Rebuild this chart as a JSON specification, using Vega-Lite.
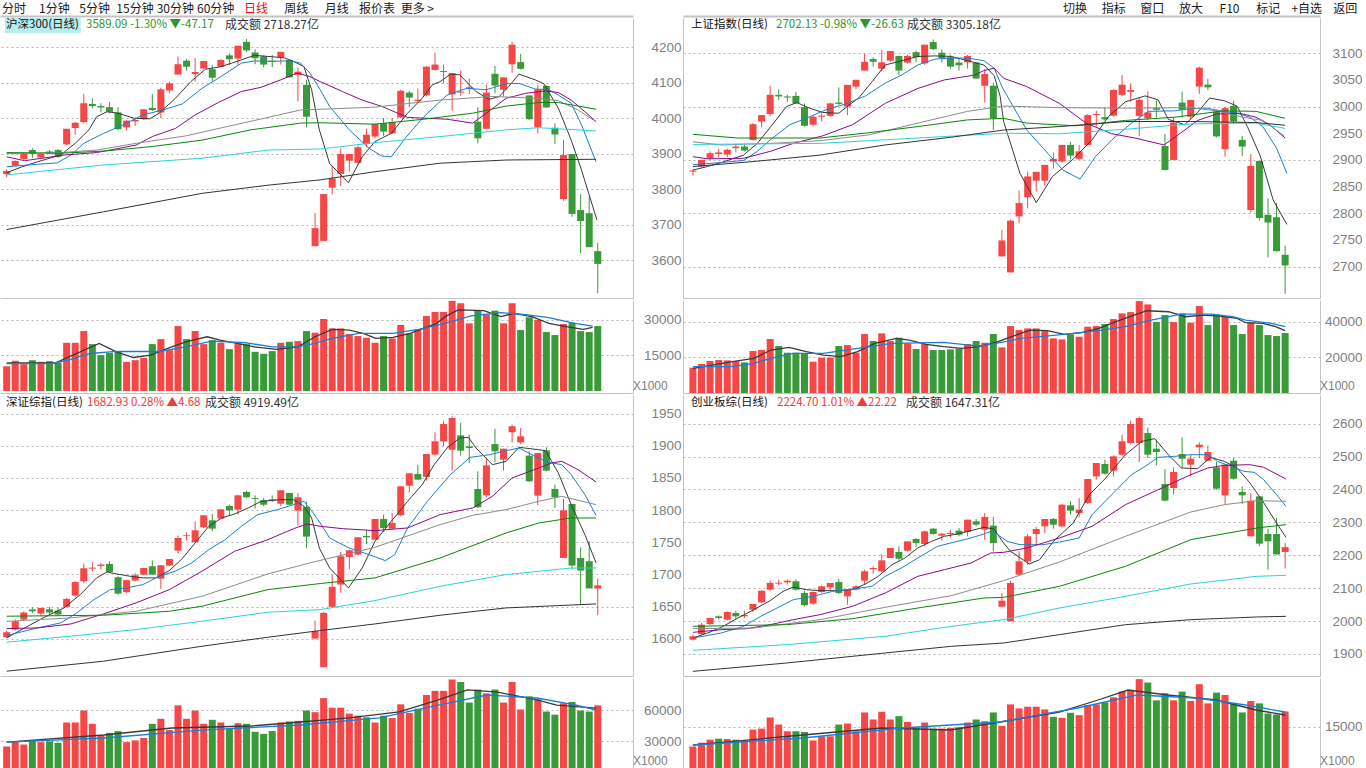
{
"$schema": "https://vega.github.io/schema/vega-lite/v6.json",
"padding": 0,
"background": "#ffffff",
"bounds": "flush",
"columns": 2,
"spacing": {"row": 2, "column": 50},
"config": {
 "font": "Noto Sans CJK SC",
 "view": {"stroke": null},
 "axisX": {"labels": false, "ticks": false, "grid": false, "domain": true, "domainColor": "#c4c4c4", "title": null},
 "axisY": {"grid": true, "gridDash": [2, 3], "gridColor": "#b4b4b4", "ticks": false, "labelPadding": 48, "labelAlign": "right", "domainColor": "#c4c4c4", "labelFont": "Liberation Sans", "labelFontSize": 13.5, "labelColor": "#808080", "labelOverlap": false, "title": null}
},
"datasets": {
 "tl": [
{"i":1,"o":3842,"h":3856,"l":3833,"c":3851,"v":10470},{"i":2,"o":3866,"h":3881,"l":3864,"c":3879,"v":12740},{"i":3,"o":3885,"h":3903,"l":3882,"c":3901,"v":11320},{"i":4,"o":3910,"h":3915,"l":3887,"c":3899,"v":13020},{"i":5,"o":3889,"h":3902,"l":3888,"c":3899,"v":12310},{"i":6,"o":3906,"h":3910,"l":3898,"c":3901,"v":12600},{"i":7,"o":3910,"h":3913,"l":3888,"c":3891,"v":12030},{"i":8,"o":3926,"h":3970,"l":3924,"c":3970,"v":20380},{"i":9,"o":3972,"h":3989,"l":3953,"c":3987,"v":20380},{"i":10,"o":3989,"h":4068,"l":3986,"c":4042,"v":25330},
{"i":11,"o":4040,"h":4056,"l":4027,"c":4034,"v":19810},{"i":12,"o":4034,"h":4042,"l":4016,"c":4030,"v":15140},{"i":13,"o":4031,"h":4046,"l":4014,"c":4018,"v":16130},{"i":14,"o":4016,"h":4031,"l":3965,"c":3969,"v":16840},{"i":15,"o":3974,"h":3995,"l":3965,"c":3993,"v":12310},{"i":16,"o":3991,"h":3999,"l":3978,"c":3995,"v":13020},{"i":17,"o":3997,"h":4025,"l":3995,"c":4025,"v":14010},{"i":18,"o":4029,"h":4068,"l":4020,"c":4023,"v":19810},{"i":19,"o":4016,"h":4086,"l":4000,"c":4081,"v":21930},{"i":20,"o":4078,"h":4103,"l":4070,"c":4098,"v":17260},
{"i":21,"o":4123,"h":4174,"l":4123,"c":4152,"v":27450},{"i":22,"o":4162,"h":4167,"l":4134,"c":4145,"v":21930},{"i":23,"o":4124,"h":4169,"l":4103,"c":4130,"v":25330},{"i":24,"o":4140,"h":4161,"l":4138,"c":4161,"v":19810},{"i":25,"o":4138,"h":4150,"l":4103,"c":4114,"v":21510},{"i":26,"o":4145,"h":4166,"l":4144,"c":4164,"v":20380},{"i":27,"o":4177,"h":4183,"l":4150,"c":4166,"v":17690},{"i":28,"o":4168,"h":4204,"l":4150,"c":4204,"v":20100},{"i":29,"o":4215,"h":4223,"l":4187,"c":4191,"v":19810},{"i":30,"o":4185,"h":4194,"l":4152,"c":4169,"v":16560},
{"i":31,"o":4174,"h":4177,"l":4144,"c":4151,"v":15710},{"i":32,"o":4162,"h":4178,"l":4144,"c":4159,"v":16840},{"i":33,"o":4172,"h":4187,"l":4151,"c":4187,"v":20380},{"i":34,"o":4164,"h":4164,"l":4115,"c":4115,"v":20800},{"i":35,"o":4122,"h":4141,"l":4047,"c":4131,"v":21080},{"i":36,"o":4094,"h":4108,"l":3974,"c":4004,"v":25330},{"i":37,"o":3639,"h":3733,"l":3639,"c":3690,"v":24620},{"i":38,"o":3654,"h":3786,"l":3654,"c":3786,"v":30420},{"i":39,"o":3804,"h":3865,"l":3785,"c":3830,"v":26460},{"i":40,"o":3843,"h":3915,"l":3809,"c":3899,"v":26460},
{"i":41,"o":3880,"h":3899,"l":3850,"c":3899,"v":24060},{"i":42,"o":3874,"h":3922,"l":3872,"c":3918,"v":23210},{"i":43,"o":3927,"h":3970,"l":3918,"c":3953,"v":22500},{"i":44,"o":3948,"h":3984,"l":3943,"c":3984,"v":20380},{"i":45,"o":3986,"h":4000,"l":3950,"c":3962,"v":23210},{"i":46,"o":3957,"h":4000,"l":3955,"c":3989,"v":22220},{"i":47,"o":4002,"h":4080,"l":4000,"c":4077,"v":27880},{"i":48,"o":4072,"h":4077,"l":4031,"c":4058,"v":24340},{"i":49,"o":4048,"h":4084,"l":4044,"c":4052,"v":26040},{"i":50,"o":4064,"h":4147,"l":4061,"c":4145,"v":31700},
{"i":51,"o":4136,"h":4185,"l":4134,"c":4151,"v":33400},{"i":52,"o":4130,"h":4151,"l":4098,"c":4133,"v":33400},{"i":53,"o":4067,"h":4127,"l":4021,"c":4127,"v":38070},{"i":54,"o":4072,"h":4133,"l":4063,"c":4075,"v":37080},{"i":55,"o":4083,"h":4112,"l":4068,"c":4087,"v":28590},{"i":56,"o":3990,"h":4031,"l":3929,"c":3943,"v":33960},{"i":57,"o":3970,"h":4094,"l":3970,"c":4072,"v":32400},{"i":58,"o":4125,"h":4147,"l":4070,"c":4092,"v":33960},{"i":59,"o":4080,"h":4115,"l":4061,"c":4115,"v":28590},{"i":60,"o":4152,"h":4215,"l":4128,"c":4207,"v":37080},
{"i":61,"o":4158,"h":4181,"l":4137,"c":4139,"v":25760},{"i":62,"o":4064,"h":4064,"l":3995,"c":3997,"v":31130},{"i":63,"o":3974,"h":4094,"l":3957,"c":4081,"v":30000},{"i":64,"o":4091,"h":4091,"l":4030,"c":4030,"v":24900},{"i":65,"o":3973,"h":3985,"l":3927,"c":3954,"v":23630},{"i":66,"o":3772,"h":3938,"l":3767,"c":3896,"v":28300},{"i":67,"o":3899,"h":3899,"l":3722,"c":3730,"v":28870},{"i":68,"o":3741,"h":3786,"l":3620,"c":3710,"v":25330},{"i":69,"o":3732,"h":3779,"l":3636,"c":3636.26,"v":24900},{"i":70,"o":3625,"h":3649,"l":3506,"c":3589.09,"v":27450}
 ],
 "tlma": [
{"m":"MA5","i":1,"v":3846},{"m":"MA5","i":2.7,"v":3862},{"m":"MA5","i":4.6,"v":3877},{"m":"MA5","i":7.3,"v":3896},{"m":"MA5","i":9,"v":3929},{"m":"MA5","i":10.6,"v":3967},{"m":"MA5","i":11.5,"v":4004},{"m":"MA5","i":12.7,"v":4018},{"m":"MA5","i":14,"v":4014},{"m":"MA5","i":15.8,"v":4000},{"m":"MA5","i":17.7,"v":3998},{"m":"MA5","i":18.8,"v":4014},{"m":"MA5","i":20.7,"v":4056},{"m":"MA5","i":22.5,"v":4103},{"m":"MA5","i":24.2,"v":4138},{"m":"MA5","i":26,"v":4145},{"m":"MA5","i":28,"v":4161},{"m":"MA5","i":29.9,"v":4177},{"m":"MA5","i":31.5,"v":4174},{"m":"MA5","i":33.4,"v":4170},{"m":"MA5","i":34.5,"v":4160},{"m":"MA5","i":35.7,"v":4145},{"m":"MA5","i":36.6,"v":4080},{"m":"MA5","i":37.5,"v":3967},{"m":"MA5","i":38.7,"v":3872},{"m":"MA5","i":40.9,"v":3818},{"m":"MA5","i":42.5,"v":3891},{"m":"MA5","i":44,"v":3934},{"m":"MA5","i":45.9,"v":3957},{"m":"MA5","i":47.8,"v":4014},{"m":"MA5","i":49.5,"v":4056},{"m":"MA5","i":50.7,"v":4094},{"m":"MA5","i":51.6,"v":4103},{"m":"MA5","i":52.8,"v":4124},{"m":"MA5","i":53.9,"v":4122},{"m":"MA5","i":55,"v":4094},{"m":"MA5","i":55.8,"v":4075},{"m":"MA5","i":57.3,"v":4053},{"m":"MA5","i":58.5,"v":4061},{"m":"MA5","i":59.6,"v":4089},{"m":"MA5","i":60.8,"v":4124},{"m":"MA5","i":62.7,"v":4108},{"m":"MA5","i":63.7,"v":4097},{"m":"MA5","i":65.4,"v":4028},{"m":"MA5","i":66.9,"v":3938},{"m":"MA5","i":68.1,"v":3854},{"m":"MA5","i":69.9,"v":3713},
{"m":"MA10","i":1,"v":3863},{"m":"MA10","i":4.6,"v":3870},{"m":"MA10","i":6.9,"v":3874},{"m":"MA10","i":8.5,"v":3896},{"m":"MA10","i":10,"v":3929},{"m":"MA10","i":12.3,"v":3957},{"m":"MA10","i":14.6,"v":3981},{"m":"MA10","i":16.9,"v":4009},{"m":"MA10","i":19.2,"v":4023},{"m":"MA10","i":21.5,"v":4040},{"m":"MA10","i":23.8,"v":4084},{"m":"MA10","i":26,"v":4117},{"m":"MA10","i":28.4,"v":4155},{"m":"MA10","i":29.9,"v":4161},{"m":"MA10","i":32.2,"v":4160},{"m":"MA10","i":34.1,"v":4162},{"m":"MA10","i":35.3,"v":4155},{"m":"MA10","i":36.4,"v":4127},{"m":"MA10","i":37.6,"v":4080},{"m":"MA10","i":38.7,"v":4033},{"m":"MA10","i":41,"v":3967},{"m":"MA10","i":43.3,"v":3915},{"m":"MA10","i":44.8,"v":3893},{"m":"MA10","i":45.9,"v":3891},{"m":"MA10","i":47.5,"v":3943},{"m":"MA10","i":49.7,"v":4004},{"m":"MA10","i":52.4,"v":4065},{"m":"MA10","i":54.7,"v":4084},{"m":"MA10","i":57,"v":4080},{"m":"MA10","i":59.3,"v":4097},{"m":"MA10","i":60.8,"v":4098},{"m":"MA10","i":62.7,"v":4082},{"m":"MA10","i":64.3,"v":4080},{"m":"MA10","i":65.4,"v":4065},{"m":"MA10","i":66.9,"v":4042},{"m":"MA10","i":68.1,"v":3981},{"m":"MA10","i":69.8,"v":3877},
{"m":"MA20","i":1,"v":3891},{"m":"MA20","i":3.1,"v":3880},{"m":"MA20","i":7.7,"v":3896},{"m":"MA20","i":11.5,"v":3903},{"m":"MA20","i":16.1,"v":3924},{"m":"MA20","i":18,"v":3948},{"m":"MA20","i":20.7,"v":3971},{"m":"MA20","i":23,"v":4009},{"m":"MA20","i":25.7,"v":4044},{"m":"MA20","i":28.4,"v":4075},{"m":"MA20","i":30.7,"v":4087},{"m":"MA20","i":33,"v":4108},{"m":"MA20","i":34.9,"v":4127},{"m":"MA20","i":36.4,"v":4117},{"m":"MA20","i":37.6,"v":4103},{"m":"MA20","i":40.2,"v":4075},{"m":"MA20","i":42.5,"v":4051},{"m":"MA20","i":44.8,"v":4033},{"m":"MA20","i":47.8,"v":4002},{"m":"MA20","i":52.4,"v":3997},{"m":"MA20","i":55.4,"v":3986},{"m":"MA20","i":57,"v":4014},{"m":"MA20","i":59.3,"v":4056},{"m":"MA20","i":61.6,"v":4070},{"m":"MA20","i":63.9,"v":4077},{"m":"MA20","i":65.4,"v":4072},{"m":"MA20","i":66.9,"v":4051},{"m":"MA20","i":68.5,"v":4018},{"m":"MA20","i":69.8,"v":3990},
{"m":"MA30","i":1,"v":3900},{"m":"MA30","i":7.3,"v":3903},{"m":"MA30","i":11.5,"v":3910},{"m":"MA30","i":16.1,"v":3929},{"m":"MA30","i":21.9,"v":3950},{"m":"MA30","i":27.6,"v":3981},{"m":"MA30","i":31.5,"v":4002},{"m":"MA30","i":35.3,"v":4023},{"m":"MA30","i":37.6,"v":4025},{"m":"MA30","i":44,"v":4031},{"m":"MA30","i":51.6,"v":4051},{"m":"MA30","i":57.7,"v":4061},{"m":"MA30","i":63.1,"v":4056},{"m":"MA30","i":65.4,"v":4049},{"m":"MA30","i":67.7,"v":4023},{"m":"MA30","i":69.8,"v":3990},
{"m":"MA60","i":1,"v":3903},{"m":"MA60","i":7.3,"v":3901},{"m":"MA60","i":12.3,"v":3907},{"m":"MA60","i":18,"v":3920},{"m":"MA60","i":23.8,"v":3938},{"m":"MA60","i":29.5,"v":3967},{"m":"MA60","i":35.3,"v":3986},{"m":"MA60","i":37.6,"v":3987},{"m":"MA60","i":44,"v":3983},{"m":"MA60","i":49.7,"v":3997},{"m":"MA60","i":55.4,"v":4014},{"m":"MA60","i":59.3,"v":4034},{"m":"MA60","i":63.1,"v":4044},{"m":"MA60","i":65.4,"v":4044},{"m":"MA60","i":69.8,"v":4025},
{"m":"MA120","i":1,"v":3840},{"m":"MA120","i":12.3,"v":3868},{"m":"MA120","i":23.8,"v":3887},{"m":"MA120","i":31.5,"v":3910},{"m":"MA120","i":37.6,"v":3913},{"m":"MA120","i":44,"v":3931},{"m":"MA120","i":51.6,"v":3948},{"m":"MA120","i":59.3,"v":3967},{"m":"MA120","i":63.1,"v":3973},{"m":"MA120","i":69.8,"v":3964},
{"m":"MA250","i":1,"v":3686},{"m":"MA250","i":12.3,"v":3736},{"m":"MA250","i":23.8,"v":3788},{"m":"MA250","i":31.5,"v":3811},{"m":"MA250","i":37.6,"v":3826},{"m":"MA250","i":44,"v":3849},{"m":"MA250","i":51.6,"v":3873},{"m":"MA250","i":59.3,"v":3882},{"m":"MA250","i":69.8,"v":3884}
 ],
 "tlvma": [
{"m":"V5","i":1,"v":11890},{"m":"V5","i":6.7,"v":11890},{"m":"V5","i":11.8,"v":20095},{"m":"V5","i":13.8,"v":16557},{"m":"V5","i":15.8,"v":14152},{"m":"V5","i":17.8,"v":15142},{"m":"V5","i":19.8,"v":17970},{"m":"V5","i":21.9,"v":20800},{"m":"V5","i":24.4,"v":22920},{"m":"V5","i":25.9,"v":21510},{"m":"V5","i":27.9,"v":20095},{"m":"V5","i":29.9,"v":18680},{"m":"V5","i":32.5,"v":17550},{"m":"V5","i":35,"v":18680},{"m":"V5","i":37,"v":22920},{"m":"V5","i":39,"v":26040},{"m":"V5","i":41,"v":25760},{"m":"V5","i":42.6,"v":24340},{"m":"V5","i":44.1,"v":22220},{"m":"V5","i":46.1,"v":22640},{"m":"V5","i":48.1,"v":24340},{"m":"V5","i":51.2,"v":28590},{"m":"V5","i":52.2,"v":31415},{"m":"V5","i":53.7,"v":34245},{"m":"V5","i":56.7,"v":33960},{"m":"V5","i":58.7,"v":31415},{"m":"V5","i":60.2,"v":32830},{"m":"V5","i":62.3,"v":31415},{"m":"V5","i":64.3,"v":28590},{"m":"V5","i":66.3,"v":27170},{"m":"V5","i":68.3,"v":26040},{"m":"V5","i":69.4,"v":26890},
{"m":"V10","i":1,"v":11605},{"m":"V10","i":6.2,"v":11605},{"m":"V10","i":8.2,"v":13020},{"m":"V10","i":10.7,"v":15850},{"m":"V10","i":13.8,"v":16700},{"m":"V10","i":18.8,"v":16700},{"m":"V10","i":21.9,"v":18680},{"m":"V10","i":24.9,"v":21080},{"m":"V10","i":28.9,"v":20380},{"m":"V10","i":32,"v":18680},{"m":"V10","i":35,"v":18680},{"m":"V10","i":37,"v":20095},{"m":"V10","i":39,"v":22220},{"m":"V10","i":42.1,"v":24340},{"m":"V10","i":46.1,"v":24340},{"m":"V10","i":49.1,"v":26040},{"m":"V10","i":52.2,"v":28590},{"m":"V10","i":55.2,"v":31700},{"m":"V10","i":58.7,"v":33110},{"m":"V10","i":61.3,"v":32400},{"m":"V10","i":64.3,"v":30990},{"m":"V10","i":67.3,"v":28590},{"m":"V10","i":69.4,"v":27450}
 ],
 "tr": [
{"i":1,"o":2878,"h":2882,"l":2871,"c":2880,"v":14208},{"i":2,"o":2887.5,"h":2900,"l":2886,"c":2900,"v":16264},{"i":3,"o":2903,"h":2916,"l":2899,"c":2912.5,"v":17946},{"i":4,"o":2911,"h":2921,"l":2905,"c":2914,"v":18507},{"i":5,"o":2910,"h":2921,"l":2905,"c":2919,"v":18320},{"i":6,"o":2922,"h":2928,"l":2914,"c":2925,"v":17946},{"i":7,"o":2925,"h":2928,"l":2916,"c":2917.5,"v":17198},{"i":8,"o":2937.5,"h":2969,"l":2936,"c":2967,"v":23553},{"i":9,"o":2972,"h":2984,"l":2961,"c":2984,"v":24113},{"i":10,"o":2986,"h":3039,"l":2982,"c":3022,"v":30281},
{"i":11,"o":3022,"h":3032.5,"l":3012.5,"c":3019,"v":26356},{"i":12,"o":3019,"h":3022,"l":3009,"c":3017,"v":22618},{"i":13,"o":3020,"h":3027.5,"l":3005,"c":3006,"v":22618},{"i":14,"o":2999,"h":3006,"l":2962.5,"c":2964,"v":22244},{"i":15,"o":2966,"h":2984,"l":2962.5,"c":2981,"v":17572},{"i":16,"o":2981,"h":2987.5,"l":2972,"c":2983,"v":19815},{"i":17,"o":2982.5,"h":3007.5,"l":2981,"c":3006,"v":19815},{"i":18,"o":3007.5,"h":3036,"l":3003,"c":3005,"v":26356},{"i":19,"o":3000,"h":3040.6,"l":2984,"c":3040.6,"v":26917},{"i":20,"o":3037.5,"h":3051,"l":3032.5,"c":3050,"v":22618},
{"i":21,"o":3067.5,"h":3099,"l":3067.5,"c":3084,"v":33085},{"i":22,"o":3089,"h":3092.5,"l":3075,"c":3084,"v":29160},{"i":23,"o":3071,"h":3106,"l":3066,"c":3083,"v":33459},{"i":24,"o":3086,"h":3104,"l":3084,"c":3104,"v":29160},{"i":25,"o":3095,"h":3095,"l":3059,"c":3067.5,"v":31029},{"i":26,"o":3082.5,"h":3097,"l":3081,"c":3095,"v":27852},{"i":27,"o":3102,"h":3105,"l":3083,"c":3092.5,"v":24674},{"i":28,"o":3081,"h":3116,"l":3078,"c":3116,"v":27478},{"i":29,"o":3121,"h":3126,"l":3106,"c":3107.5,"v":24113},{"i":30,"o":3101,"h":3107.5,"l":3082.5,"c":3091,"v":24113},
{"i":31,"o":3092.5,"h":3097,"l":3071,"c":3075,"v":24487},{"i":32,"o":3082.5,"h":3091,"l":3067.5,"c":3077.5,"v":24861},{"i":33,"o":3083,"h":3097,"l":3071,"c":3095,"v":27478},{"i":34,"o":3082.5,"h":3084,"l":3052.5,"c":3052.5,"v":29160},{"i":35,"o":3039,"h":3070,"l":3007.5,"c":3061,"v":28226},{"i":36,"o":3039,"h":3045,"l":2956,"c":2978,"v":33085},{"i":37,"o":2719,"h":2769,"l":2719,"c":2749,"v":25608},{"i":38,"o":2689,"h":2787.5,"l":2689,"c":2786,"v":37570},{"i":39,"o":2794,"h":2842.5,"l":2781,"c":2819,"v":35328},{"i":40,"o":2830,"h":2878,"l":2809,"c":2869,"v":36262},
{"i":41,"o":2861,"h":2877.5,"l":2841,"c":2877.5,"v":36262},{"i":42,"o":2861,"h":2890.6,"l":2851,"c":2890.6,"v":34767},{"i":43,"o":2897,"h":2914,"l":2884,"c":2902,"v":30655},{"i":44,"o":2897,"h":2928,"l":2895,"c":2928,"v":30094},{"i":45,"o":2928,"h":2934,"l":2901,"c":2908,"v":32898},{"i":46,"o":2902,"h":2928,"l":2900,"c":2916,"v":31589},{"i":47,"o":2928,"h":2986,"l":2927,"c":2984,"v":37197},{"i":48,"o":2984,"h":2992,"l":2962.5,"c":2986,"v":37570},{"i":49,"o":2980,"h":2998,"l":2974,"c":2976,"v":38692},{"i":50,"o":2983,"h":3032.5,"l":2981,"c":3031,"v":41495},
{"i":51,"o":3022,"h":3059,"l":3020,"c":3041,"v":44673},{"i":52,"o":3027.5,"h":3044,"l":3009,"c":3031,"v":45420},{"i":53,"o":2982.5,"h":3016,"l":2945,"c":3012.5,"v":51588},{"i":54,"o":2978,"h":3029,"l":2975,"c":2989,"v":49719},{"i":55,"o":2997,"h":3011,"l":2980,"c":2994,"v":39813},{"i":56,"o":2926,"h":2949,"l":2880,"c":2881,"v":43738},{"i":57,"o":2900,"h":2980,"l":2900,"c":2970,"v":39813},{"i":58,"o":3007.5,"h":3028,"l":2980,"c":2994,"v":44673},{"i":59,"o":2981,"h":3012.5,"l":2976,"c":3012.5,"v":39439},{"i":60,"o":3037.5,"h":3075,"l":3024,"c":3073,"v":48784},
{"i":61,"o":3041,"h":3052,"l":3031,"c":3036,"v":38131},{"i":62,"o":2991,"h":2994,"l":2942,"c":2944,"v":44112},{"i":63,"o":2920,"h":3000,"l":2906,"c":2997,"v":42803},{"i":64,"o":3001,"h":3011,"l":2969,"c":2972,"v":38131},{"i":65,"o":2937.5,"h":2945,"l":2907.5,"c":2925,"v":33085},{"i":66,"o":2806,"h":2911,"l":2801,"c":2889,"v":39439},{"i":67,"o":2898,"h":2898,"l":2786,"c":2791,"v":38131},{"i":68,"o":2797,"h":2828,"l":2717,"c":2782.5,"v":32524},{"i":69,"o":2792.5,"h":2819,"l":2728,"c":2728.76,"v":31963},{"i":70,"o":2722,"h":2739,"l":2649,"c":2702.13,"v":33646}
 ],
 "trma": [
{"m":"MA5","i":1,"v":2881},{"m":"MA5","i":2.7,"v":2887.5},{"m":"MA5","i":4.3,"v":2895},{"m":"MA5","i":6.9,"v":2909},{"m":"MA5","i":8.5,"v":2931},{"m":"MA5","i":10.4,"v":2969},{"m":"MA5","i":11.9,"v":3000},{"m":"MA5","i":13.1,"v":3007.5},{"m":"MA5","i":14.6,"v":2997},{"m":"MA5","i":16.1,"v":2989},{"m":"MA5","i":18,"v":2987.5},{"m":"MA5","i":19.2,"v":3003},{"m":"MA5","i":20.3,"v":3016},{"m":"MA5","i":21.9,"v":3047},{"m":"MA5","i":23.4,"v":3078},{"m":"MA5","i":24.9,"v":3084},{"m":"MA5","i":27.2,"v":3094},{"m":"MA5","i":29.2,"v":3095},{"m":"MA5","i":31.1,"v":3094},{"m":"MA5","i":33,"v":3086},{"m":"MA5","i":34.9,"v":3078},{"m":"MA5","i":36.1,"v":3058},{"m":"MA5","i":36.8,"v":3019},{"m":"MA5","i":37.2,"v":2972},{"m":"MA5","i":39.1,"v":2875},{"m":"MA5","i":41,"v":2820},{"m":"MA5","i":42.9,"v":2869},{"m":"MA5","i":45.2,"v":2900},{"m":"MA5","i":47.5,"v":2937.5},{"m":"MA5","i":49.4,"v":2981},{"m":"MA5","i":51.4,"v":3009},{"m":"MA5","i":53.7,"v":3020},{"m":"MA5","i":55.2,"v":3012.5},{"m":"MA5","i":56.4,"v":2976},{"m":"MA5","i":58.3,"v":2966},{"m":"MA5","i":59.8,"v":2989},{"m":"MA5","i":61.2,"v":3016},{"m":"MA5","i":62.9,"v":3011},{"m":"MA5","i":64.4,"v":3001},{"m":"MA5","i":65.6,"v":2962.5},{"m":"MA5","i":67.1,"v":2907.5},{"m":"MA5","i":68.6,"v":2825},{"m":"MA5","i":70.2,"v":2779},
{"m":"MA10","i":1,"v":2891},{"m":"MA10","i":4.3,"v":2895},{"m":"MA10","i":6.9,"v":2899},{"m":"MA10","i":8.5,"v":2916},{"m":"MA10","i":10,"v":2937.5},{"m":"MA10","i":12.3,"v":2966},{"m":"MA10","i":14.2,"v":2978},{"m":"MA10","i":16.5,"v":2994},{"m":"MA10","i":18.8,"v":3005},{"m":"MA10","i":21.1,"v":3020},{"m":"MA10","i":23.4,"v":3044},{"m":"MA10","i":25.3,"v":3059},{"m":"MA10","i":27.2,"v":3078},{"m":"MA10","i":29.2,"v":3089},{"m":"MA10","i":31.1,"v":3091},{"m":"MA10","i":33,"v":3091},{"m":"MA10","i":34.9,"v":3086},{"m":"MA10","i":36.1,"v":3072},{"m":"MA10","i":37,"v":3037.5},{"m":"MA10","i":38,"v":3009},{"m":"MA10","i":39.9,"v":2956},{"m":"MA10","i":41.8,"v":2922},{"m":"MA10","i":44.1,"v":2881},{"m":"MA10","i":46.1,"v":2864},{"m":"MA10","i":47.9,"v":2906},{"m":"MA10","i":49.8,"v":2937.5},{"m":"MA10","i":52.1,"v":2969},{"m":"MA10","i":54.1,"v":2991},{"m":"MA10","i":57.1,"v":2992},{"m":"MA10","i":59,"v":2996},{"m":"MA10","i":60.9,"v":2997},{"m":"MA10","i":62.8,"v":2991},{"m":"MA10","i":64.4,"v":2987.5},{"m":"MA10","i":65.9,"v":2980},{"m":"MA10","i":67.4,"v":2962.5},{"m":"MA10","i":69,"v":2922},{"m":"MA10","i":70.2,"v":2875},
{"m":"MA20","i":1,"v":2906},{"m":"MA20","i":2.7,"v":2902},{"m":"MA20","i":6.9,"v":2903},{"m":"MA20","i":10,"v":2916},{"m":"MA20","i":12.7,"v":2931},{"m":"MA20","i":16.1,"v":2945},{"m":"MA20","i":19.6,"v":2966},{"m":"MA20","i":23.4,"v":3006},{"m":"MA20","i":27.2,"v":3034},{"m":"MA20","i":30.3,"v":3050},{"m":"MA20","i":33.8,"v":3059},{"m":"MA20","i":34.9,"v":3067.5},{"m":"MA20","i":36.1,"v":3072},{"m":"MA20","i":37.2,"v":3053},{"m":"MA20","i":39.9,"v":3037.5},{"m":"MA20","i":43.7,"v":3006},{"m":"MA20","i":46.8,"v":2969},{"m":"MA20","i":49.8,"v":2949},{"m":"MA20","i":52.5,"v":2941},{"m":"MA20","i":55.9,"v":2928},{"m":"MA20","i":57.8,"v":2950},{"m":"MA20","i":59.8,"v":2974},{"m":"MA20","i":62,"v":2986},{"m":"MA20","i":64.7,"v":2987.5},{"m":"MA20","i":66.6,"v":2980},{"m":"MA20","i":68.2,"v":2966},{"m":"MA20","i":70,"v":2941},
{"m":"MA30","i":1,"v":2934},{"m":"MA30","i":4.3,"v":2928},{"m":"MA30","i":10,"v":2931},{"m":"MA30","i":15.8,"v":2936},{"m":"MA30","i":21.5,"v":2947},{"m":"MA30","i":27.2,"v":2969},{"m":"MA30","i":33,"v":2991},{"m":"MA30","i":37.2,"v":3001},{"m":"MA30","i":43.7,"v":2998},{"m":"MA30","i":51.4,"v":2997},{"m":"MA30","i":59,"v":2998},{"m":"MA30","i":62,"v":2992},{"m":"MA30","i":65.1,"v":2980},{"m":"MA30","i":67.4,"v":2974},{"m":"MA30","i":69.9,"v":2945},
{"m":"MA60","i":1,"v":2948},{"m":"MA60","i":6.2,"v":2941},{"m":"MA60","i":15.8,"v":2941},{"m":"MA60","i":21.5,"v":2951},{"m":"MA60","i":27.2,"v":2962.5},{"m":"MA60","i":33,"v":2975},{"m":"MA60","i":37.2,"v":2978},{"m":"MA60","i":39.9,"v":2969},{"m":"MA60","i":45.6,"v":2964},{"m":"MA60","i":51.4,"v":2974},{"m":"MA60","i":57.1,"v":2980},{"m":"MA60","i":62.8,"v":2992},{"m":"MA60","i":66.6,"v":2991},{"m":"MA60","i":70,"v":2978},
{"m":"MA120","i":1,"v":2929},{"m":"MA120","i":15.8,"v":2931},{"m":"MA120","i":27.2,"v":2941},{"m":"MA120","i":37.2,"v":2950},{"m":"MA120","i":43.7,"v":2949},{"m":"MA120","i":51.4,"v":2957.5},{"m":"MA120","i":59,"v":2967.5},{"m":"MA120","i":66.6,"v":2969},{"m":"MA120","i":70,"v":2959},
{"m":"MA250","i":1,"v":2887.5},{"m":"MA250","i":8.1,"v":2897},{"m":"MA250","i":15.8,"v":2909},{"m":"MA250","i":23.4,"v":2928},{"m":"MA250","i":31.1,"v":2942.5},{"m":"MA250","i":37.2,"v":2956},{"m":"MA250","i":43.7,"v":2962.5},{"m":"MA250","i":51.4,"v":2972},{"m":"MA250","i":59,"v":2972},{"m":"MA250","i":66.6,"v":2970},{"m":"MA250","i":70,"v":2965}
 ],
 "trvma": [
{"m":"V5","i":1,"v":13834},{"m":"V5","i":5.6,"v":17572},{"m":"V5","i":8.1,"v":19441},{"m":"V5","i":10.1,"v":24113},{"m":"V5","i":12.2,"v":25609},{"m":"V5","i":14.2,"v":23179},{"m":"V5","i":16.2,"v":21310},{"m":"V5","i":18.2,"v":20375},{"m":"V5","i":20.2,"v":23179},{"m":"V5","i":22.2,"v":27852},{"m":"V5","i":24.7,"v":30655},{"m":"V5","i":26.2,"v":29720},{"m":"V5","i":28.2,"v":27291},{"m":"V5","i":30.2,"v":25983},{"m":"V5","i":32.3,"v":25048},{"m":"V5","i":34.3,"v":25983},{"m":"V5","i":36.3,"v":28412},{"m":"V5","i":38.3,"v":31963},{"m":"V5","i":40.3,"v":35328},{"m":"V5","i":42.3,"v":34954},{"m":"V5","i":44.3,"v":32898},{"m":"V5","i":46.3,"v":33832},{"m":"V5","i":48.3,"v":36262},{"m":"V5","i":50.3,"v":40000},{"m":"V5","i":52.4,"v":43738},{"m":"V5","i":53.9,"v":46168},{"m":"V5","i":56.4,"v":45607},{"m":"V5","i":58.4,"v":42804},{"m":"V5","i":60.4,"v":43738},{"m":"V5","i":62.4,"v":43177},{"m":"V5","i":64.4,"v":41869},{"m":"V5","i":65.4,"v":39439},{"m":"V5","i":67.4,"v":39065},{"m":"V5","i":68.9,"v":37196},{"m":"V5","i":70,"v":34954},
{"m":"V10","i":1,"v":14769},{"m":"V10","i":5.6,"v":14769},{"m":"V10","i":8.1,"v":16637},{"m":"V10","i":10.1,"v":19441},{"m":"V10","i":12.7,"v":22244},{"m":"V10","i":16.2,"v":22244},{"m":"V10","i":20.2,"v":25048},{"m":"V10","i":24.2,"v":27852},{"m":"V10","i":30.2,"v":28412},{"m":"V10","i":34.3,"v":26356},{"m":"V10","i":36.3,"v":27852},{"m":"V10","i":39.3,"v":30655},{"m":"V10","i":43.3,"v":32524},{"m":"V10","i":45.3,"v":33459},{"m":"V10","i":48.3,"v":34954},{"m":"V10","i":51.4,"v":37197},{"m":"V10","i":54.4,"v":40935},{"m":"V10","i":57.9,"v":44299},{"m":"V10","i":61.4,"v":44299},{"m":"V10","i":63.9,"v":42804},{"m":"V10","i":65.4,"v":40935},{"m":"V10","i":68.4,"v":39065},{"m":"V10","i":70,"v":37197}
 ],
 "bl": [
{"i":1,"o":1602.3,"h":1612.7,"l":1601.3,"c":1610,"v":24600},{"i":2,"o":1614.3,"h":1629.8,"l":1612.7,"c":1627.2,"v":29900},{"i":3,"o":1629.8,"h":1642.7,"l":1628.2,"c":1640.7,"v":26600},{"i":4,"o":1645.3,"h":1649,"l":1640,"c":1642.7,"v":30600},{"i":5,"o":1639.1,"h":1647.9,"l":1635,"c":1647.9,"v":28900},{"i":6,"o":1645.8,"h":1649.5,"l":1637.6,"c":1640.7,"v":29600},{"i":7,"o":1643.8,"h":1648,"l":1636.5,"c":1637.6,"v":28300},{"i":8,"o":1649.5,"h":1663.5,"l":1649.5,"c":1661.9,"v":47900},{"i":9,"o":1667.1,"h":1689.4,"l":1664.5,"c":1688.3,"v":47900},{"i":10,"o":1689.4,"h":1716.8,"l":1686.8,"c":1709.6,"v":59500},
{"i":11,"o":1709,"h":1718.9,"l":1704.9,"c":1710.6,"v":46600},{"i":12,"o":1713.2,"h":1718,"l":1707.5,"c":1715.3,"v":35600},{"i":13,"o":1716.3,"h":1720.5,"l":1702.3,"c":1703.9,"v":37900},{"i":14,"o":1695.6,"h":1697.2,"l":1668.7,"c":1670.2,"v":39600},{"i":15,"o":1672.3,"h":1692,"l":1671.2,"c":1691,"v":28900},{"i":16,"o":1690.4,"h":1702.3,"l":1689.4,"c":1698.7,"v":30600},{"i":17,"o":1699.7,"h":1710.1,"l":1698.7,"c":1710.1,"v":32900},{"i":18,"o":1712.7,"h":1722,"l":1699.7,"c":1699.7,"v":46600},{"i":19,"o":1693.5,"h":1714.2,"l":1677.5,"c":1714.2,"v":51500},{"i":20,"o":1713.7,"h":1724,"l":1712.7,"c":1724,"v":40600},
{"i":21,"o":1737,"h":1760.4,"l":1732.4,"c":1756.7,"v":64500},{"i":22,"o":1759.8,"h":1765.5,"l":1752.6,"c":1760.9,"v":51500},{"i":23,"o":1750.5,"h":1782.6,"l":1749,"c":1768.7,"v":59500},{"i":24,"o":1773.3,"h":1792,"l":1772.3,"c":1792,"v":46600},{"i":25,"o":1784.2,"h":1794,"l":1767,"c":1771.2,"v":50500},{"i":26,"o":1786.8,"h":1801.3,"l":1785.8,"c":1801.3,"v":47900},{"i":27,"o":1806.5,"h":1808.5,"l":1792,"c":1799.7,"v":41600},{"i":28,"o":1800.8,"h":1824,"l":1793,"c":1823,"v":47200},{"i":29,"o":1828.2,"h":1830.3,"l":1819,"c":1820,"v":46600},{"i":30,"o":1818.9,"h":1823,"l":1802.3,"c":1817.4,"v":38900},
{"i":31,"o":1815.3,"h":1818.9,"l":1806,"c":1808.5,"v":36900},{"i":32,"o":1816.8,"h":1823,"l":1812.7,"c":1814.8,"v":39600},{"i":33,"o":1810,"h":1830.8,"l":1806,"c":1830.8,"v":47900},{"i":34,"o":1826.7,"h":1826.7,"l":1807.5,"c":1808.5,"v":48900},{"i":35,"o":1799.2,"h":1826.7,"l":1776.4,"c":1820,"v":49500},{"i":36,"o":1805,"h":1813.7,"l":1741,"c":1758.8,"v":59500},{"i":37,"o":1600.3,"h":1628.2,"l":1600.3,"c":1611.7,"v":57900},{"i":38,"o":1555.7,"h":1641.7,"l":1555.7,"c":1640.2,"v":71500},{"i":39,"o":1649.5,"h":1699.7,"l":1649,"c":1680.6,"v":62200},{"i":40,"o":1684.2,"h":1735,"l":1671.2,"c":1728.2,"v":62200},
{"i":41,"o":1727.2,"h":1738.6,"l":1707.5,"c":1737.6,"v":56500},{"i":42,"o":1730.8,"h":1757.8,"l":1729.8,"c":1757.8,"v":54500},{"i":43,"o":1759.8,"h":1769.7,"l":1747.4,"c":1757.8,"v":52900},{"i":44,"o":1754.1,"h":1786.3,"l":1754.1,"c":1786.3,"v":47900},{"i":45,"o":1786.3,"h":1793,"l":1766,"c":1772.3,"v":54500},{"i":46,"o":1771.2,"h":1795.6,"l":1771.2,"c":1780,"v":52200},{"i":47,"o":1792,"h":1837,"l":1790.4,"c":1837,"v":65500},{"i":48,"o":1838,"h":1857.3,"l":1827.7,"c":1857.3,"v":57200},{"i":49,"o":1856.2,"h":1870.7,"l":1847.4,"c":1847.4,"v":61200},{"i":50,"o":1851.6,"h":1887.3,"l":1845.9,"c":1887.3,"v":74500},
{"i":51,"o":1886.3,"h":1921,"l":1884.7,"c":1907,"v":78500},{"i":52,"o":1907,"h":1939.1,"l":1899.2,"c":1934,"v":78500},{"i":53,"o":1894,"h":1945.9,"l":1861.4,"c":1943.3,"v":89500},{"i":54,"o":1916.3,"h":1935.5,"l":1884.7,"c":1892.5,"v":87100},{"i":55,"o":1899.2,"h":1917.4,"l":1873.3,"c":1896.6,"v":67200},{"i":56,"o":1832.9,"h":1860.4,"l":1803.4,"c":1804.4,"v":79800},{"i":57,"o":1823,"h":1882,"l":1820,"c":1869.7,"v":76100},{"i":58,"o":1902.8,"h":1926.7,"l":1874.9,"c":1891.5,"v":79800},{"i":59,"o":1878.5,"h":1895.6,"l":1861.4,"c":1895.6,"v":67200},{"i":60,"o":1921,"h":1932.9,"l":1905.4,"c":1930.3,"v":87100},
{"i":61,"o":1905.4,"h":1927.7,"l":1902.8,"c":1914.8,"v":60500},{"i":62,"o":1884.7,"h":1891.5,"l":1843.8,"c":1844.8,"v":73200},{"i":63,"o":1822.5,"h":1888.9,"l":1807.5,"c":1888.9,"v":70500},{"i":64,"o":1893,"h":1897.7,"l":1860.4,"c":1861.4,"v":58500},{"i":65,"o":1832.9,"h":1839.7,"l":1803.4,"c":1820,"v":55500},{"i":66,"o":1725.6,"h":1817.4,"l":1725.6,"c":1799.7,"v":66500},{"i":67,"o":1809.6,"h":1809.6,"l":1707.5,"c":1713.7,"v":67800},{"i":68,"o":1725.6,"h":1742.2,"l":1653.1,"c":1706,"v":59500},{"i":69,"o":1720.5,"h":1751.6,"l":1679,"c":1678.25,"v":58500},{"i":70,"o":1678,"h":1693.5,"l":1636.5,"c":1682.93,"v":64500}
 ],
 "blma": [
{"m":"MA5","i":1,"v":1601.3},{"m":"MA5","i":3.1,"v":1616.8},{"m":"MA5","i":5.4,"v":1633.4},{"m":"MA5","i":7.7,"v":1648},{"m":"MA5","i":9.6,"v":1668.7},{"m":"MA5","i":11.5,"v":1694.6},{"m":"MA5","i":12.7,"v":1703.9},{"m":"MA5","i":13.8,"v":1700.8},{"m":"MA5","i":15.4,"v":1697.2},{"m":"MA5","i":16.9,"v":1694.6},{"m":"MA5","i":18.4,"v":1694.6},{"m":"MA5","i":20,"v":1706},{"m":"MA5","i":21.5,"v":1724.6},{"m":"MA5","i":23,"v":1749},{"m":"MA5","i":24.6,"v":1774.9},{"m":"MA5","i":26.1,"v":1787.8},{"m":"MA5","i":27.6,"v":1794},{"m":"MA5","i":29.2,"v":1803.4},{"m":"MA5","i":30.7,"v":1813.7},{"m":"MA5","i":33,"v":1816.3},{"m":"MA5","i":34.5,"v":1816.3},{"m":"MA5","i":35.7,"v":1806},{"m":"MA5","i":36.6,"v":1787.8},{"m":"MA5","i":37.5,"v":1741},{"m":"MA5","i":38.7,"v":1710},{"m":"MA5","i":40.9,"v":1679},{"m":"MA5","i":42.5,"v":1710},{"m":"MA5","i":44,"v":1751.6},{"m":"MA5","i":45.9,"v":1782.6},{"m":"MA5","i":47.8,"v":1813.7},{"m":"MA5","i":49.5,"v":1839.6},{"m":"MA5","i":50.9,"v":1870.7},{"m":"MA5","i":52.4,"v":1896.6},{"m":"MA5","i":53.9,"v":1912.2},{"m":"MA5","i":54.9,"v":1913.2},{"m":"MA5","i":55.8,"v":1896.6},{"m":"MA5","i":57.7,"v":1870.7},{"m":"MA5","i":59.3,"v":1875.9},{"m":"MA5","i":60.8,"v":1897.7},{"m":"MA5","i":63.1,"v":1894},{"m":"MA5","i":63.9,"v":1892.5},{"m":"MA5","i":65.4,"v":1857.8},{"m":"MA5","i":66.9,"v":1808.5},{"m":"MA5","i":68.5,"v":1761.9},{"m":"MA5","i":69.8,"v":1717.9},
{"m":"MA10","i":1,"v":1605},{"m":"MA10","i":4.6,"v":1616.8},{"m":"MA10","i":7.3,"v":1624.6},{"m":"MA10","i":9.2,"v":1640.2},{"m":"MA10","i":11.2,"v":1660.9},{"m":"MA10","i":13.1,"v":1676.4},{"m":"MA10","i":15,"v":1679},{"m":"MA10","i":16.9,"v":1684.2},{"m":"MA10","i":18.8,"v":1697.2},{"m":"MA10","i":20.7,"v":1705},{"m":"MA10","i":22.6,"v":1717.9},{"m":"MA10","i":24.6,"v":1738.6},{"m":"MA10","i":26.5,"v":1754.1},{"m":"MA10","i":28.4,"v":1774.9},{"m":"MA10","i":30.3,"v":1793},{"m":"MA10","i":32.6,"v":1800.8},{"m":"MA10","i":34.5,"v":1808.5},{"m":"MA10","i":35.7,"v":1813.7},{"m":"MA10","i":36.6,"v":1799},{"m":"MA10","i":37.6,"v":1780},{"m":"MA10","i":38.7,"v":1756.7},{"m":"MA10","i":41,"v":1741},{"m":"MA10","i":43.3,"v":1730.8},{"m":"MA10","i":45.2,"v":1721.5},{"m":"MA10","i":46.3,"v":1730.8},{"m":"MA10","i":47.8,"v":1772.3},{"m":"MA10","i":50.1,"v":1813.7},{"m":"MA10","i":52.8,"v":1855.2},{"m":"MA10","i":55.1,"v":1882.1},{"m":"MA10","i":57.4,"v":1886.3},{"m":"MA10","i":59.3,"v":1892.5},{"m":"MA10","i":60.8,"v":1896.6},{"m":"MA10","i":62.7,"v":1883.7},{"m":"MA10","i":64.3,"v":1874.4},{"m":"MA10","i":65.8,"v":1870.7},{"m":"MA10","i":66.9,"v":1855.2},{"m":"MA10","i":68.5,"v":1824.1},{"m":"MA10","i":69.8,"v":1792},
{"m":"MA20","i":1,"v":1615.8},{"m":"MA20","i":4.6,"v":1616.8},{"m":"MA20","i":8.5,"v":1623},{"m":"MA20","i":12.3,"v":1638.6},{"m":"MA20","i":16.1,"v":1655.7},{"m":"MA20","i":20,"v":1676.4},{"m":"MA20","i":23.8,"v":1705},{"m":"MA20","i":27.6,"v":1736},{"m":"MA20","i":31.5,"v":1754.1},{"m":"MA20","i":34.5,"v":1771.2},{"m":"MA20","i":36.1,"v":1778.5},{"m":"MA20","i":37.6,"v":1774.9},{"m":"MA20","i":40.2,"v":1771.2},{"m":"MA20","i":44,"v":1768.1},{"m":"MA20","i":47.8,"v":1772.3},{"m":"MA20","i":51.6,"v":1793},{"m":"MA20","i":55.4,"v":1803.4},{"m":"MA20","i":57.7,"v":1821.5},{"m":"MA20","i":60,"v":1850},{"m":"MA20","i":63.1,"v":1865.5},{"m":"MA20","i":64.6,"v":1873.3},{"m":"MA20","i":65.8,"v":1876},{"m":"MA20","i":67.7,"v":1863},{"m":"MA20","i":69.8,"v":1843.8},
{"m":"MA30","i":1,"v":1627},{"m":"MA30","i":8.5,"v":1632.4},{"m":"MA30","i":16.1,"v":1642.7},{"m":"MA30","i":23.8,"v":1666},{"m":"MA30","i":31.5,"v":1700.8},{"m":"MA30","i":36.4,"v":1717.9},{"m":"MA30","i":44,"v":1742.2},{"m":"MA30","i":51.6,"v":1777.5},{"m":"MA30","i":55.4,"v":1792},{"m":"MA30","i":59.3,"v":1800.8},{"m":"MA30","i":63.1,"v":1813.7},{"m":"MA30","i":65.8,"v":1821.5},{"m":"MA30","i":69.8,"v":1808.5},
{"m":"MA60","i":1,"v":1635},{"m":"MA60","i":12.3,"v":1636.5},{"m":"MA60","i":20,"v":1642.7},{"m":"MA60","i":23.8,"v":1650.5},{"m":"MA60","i":31.5,"v":1676.4},{"m":"MA60","i":37.6,"v":1685.8},{"m":"MA60","i":44,"v":1694.6},{"m":"MA60","i":51.6,"v":1725.6},{"m":"MA60","i":59.3,"v":1764.5},{"m":"MA60","i":63.1,"v":1780},{"m":"MA60","i":66.9,"v":1787.8},{"m":"MA60","i":69.8,"v":1787.8},
{"m":"MA120","i":1,"v":1594.6},{"m":"MA120","i":8.5,"v":1604},{"m":"MA120","i":16.1,"v":1614.2},{"m":"MA120","i":23.8,"v":1627.2},{"m":"MA120","i":31.5,"v":1641.2},{"m":"MA120","i":37.6,"v":1645.3},{"m":"MA120","i":44,"v":1659.3},{"m":"MA120","i":51.6,"v":1681.6},{"m":"MA120","i":59.3,"v":1699.7},{"m":"MA120","i":66.9,"v":1710},{"m":"MA120","i":69.8,"v":1710},
{"m":"MA250","i":1,"v":1549.5},{"m":"MA250","i":12.3,"v":1565},{"m":"MA250","i":23.8,"v":1588.3},{"m":"MA250","i":31.5,"v":1602.3},{"m":"MA250","i":37.6,"v":1612.7},{"m":"MA250","i":44,"v":1623},{"m":"MA250","i":51.6,"v":1636.5},{"m":"MA250","i":59.3,"v":1647.9},{"m":"MA250","i":69.8,"v":1654.1}
 ],
 "blvma": [
{"m":"V5","i":1,"v":29000},{"m":"V5","i":12.3,"v":35800},{"m":"V5","i":20.3,"v":42600},{"m":"V5","i":29.5,"v":44500},{"m":"V5","i":35.3,"v":48400},{"m":"V5","i":41,"v":52300},{"m":"V5","i":46.8,"v":58100},{"m":"V5","i":51.4,"v":69700},{"m":"V5","i":54.8,"v":79400},{"m":"V5","i":58.3,"v":77400},{"m":"V5","i":62.9,"v":69700},{"m":"V5","i":65.2,"v":64800},{"m":"V5","i":69.8,"v":61900},
{"m":"V10","i":1,"v":29000},{"m":"V10","i":12.3,"v":32900},{"m":"V10","i":23.8,"v":40600},{"m":"V10","i":35.3,"v":45500},{"m":"V10","i":44.5,"v":52300},{"m":"V10","i":51.4,"v":64800},{"m":"V10","i":57.1,"v":74500},{"m":"V10","i":62.9,"v":71600},{"m":"V10","i":67.5,"v":64800},{"m":"V10","i":69.8,"v":60000}
 ],
 "br": [
{"i":1,"o":1943.5,"h":1958.7,"l":1940.4,"c":1953.6,"v":8500},{"i":2,"o":1960.7,"h":1994.1,"l":1958.7,"c":1989,"v":9760},{"i":3,"o":1991,"h":2009.3,"l":1987,"c":2009.3,"v":10770},{"i":4,"o":2014.4,"h":2017.4,"l":2004.3,"c":2009.3,"v":11100},{"i":5,"o":2004.3,"h":2029.6,"l":2001.2,"c":2027.5,"v":10990},{"i":6,"o":2024.5,"h":2031.6,"l":2007.3,"c":2014.4,"v":10770},{"i":7,"o":2014.4,"h":2031.6,"l":2009.3,"c":2018.4,"v":10320},{"i":8,"o":2034.6,"h":2051.9,"l":2027.5,"c":2051.9,"v":14130},{"i":9,"o":2057,"h":2092.4,"l":2055,"c":2092.4,"v":14470},{"i":10,"o":2095.4,"h":2122.8,"l":2092.4,"c":2115.7,"v":18170},
{"i":11,"o":2113.7,"h":2125.8,"l":2108.6,"c":2116.7,"v":15810},{"i":12,"o":2117.7,"h":2125.8,"l":2110.6,"c":2122.8,"v":13570},{"i":13,"o":2120.8,"h":2126.8,"l":2092.4,"c":2095.4,"v":13570},{"i":14,"o":2085.3,"h":2092.4,"l":2044.8,"c":2048.2,"v":13350},{"i":15,"o":2052.9,"h":2090.4,"l":2049.8,"c":2088.3,"v":10540},{"i":16,"o":2088.3,"h":2108.6,"l":2085.3,"c":2105.6,"v":11890},{"i":17,"o":2102.5,"h":2115.7,"l":2095.4,"c":2115.7,"v":11890},{"i":18,"o":2118.7,"h":2128.9,"l":2082.3,"c":2085.3,"v":15810},{"i":19,"o":2075.2,"h":2095.4,"l":2049.8,"c":2095.4,"v":16150},{"i":20,"o":2095.4,"h":2108.6,"l":2092.4,"c":2105.6,"v":13570},
{"i":21,"o":2122.8,"h":2156.2,"l":2110.6,"c":2151.2,"v":19850},{"i":22,"o":2157.3,"h":2166.4,"l":2144.1,"c":2161.3,"v":17500},{"i":23,"o":2151.2,"h":2203.8,"l":2148.1,"c":2184.6,"v":20080},{"i":24,"o":2191.7,"h":2222.1,"l":2191.7,"c":2222.1,"v":17500},{"i":25,"o":2209.9,"h":2227.2,"l":2183.6,"c":2189.7,"v":18620},{"i":26,"o":2213.9,"h":2242.3,"l":2211.9,"c":2242.3,"v":16710},{"i":27,"o":2249.4,"h":2252.5,"l":2224.1,"c":2237.3,"v":14800},{"i":28,"o":2234.2,"h":2274.8,"l":2227.2,"c":2272.7,"v":16490},{"i":29,"o":2280.8,"h":2282.9,"l":2262.6,"c":2264.6,"v":14470},{"i":30,"o":2259.6,"h":2267.7,"l":2244.4,"c":2265.6,"v":14470},
{"i":31,"o":2264.6,"h":2277.8,"l":2254.5,"c":2267.7,"v":14690},{"i":32,"o":2274.8,"h":2282.9,"l":2257.6,"c":2262.6,"v":14920},{"i":33,"o":2270.7,"h":2308.2,"l":2257.6,"c":2308.2,"v":16490},{"i":34,"o":2303.1,"h":2310.2,"l":2287.9,"c":2293,"v":17500},{"i":35,"o":2277.8,"h":2328.5,"l":2247.4,"c":2316.3,"v":16940},{"i":36,"o":2290,"h":2316.3,"l":2212,"c":2237.3,"v":19850},{"i":37,"o":2043.8,"h":2085.3,"l":2043.8,"c":2062,"v":15360},{"i":38,"o":1999.2,"h":2122.8,"l":1999.2,"c":2115.7,"v":22540},{"i":39,"o":2141,"h":2211.9,"l":2139,"c":2181.6,"v":21200},{"i":40,"o":2181.6,"h":2264.6,"l":2171.4,"c":2257.6,"v":21760},
{"i":41,"o":2264.6,"h":2285.9,"l":2232.2,"c":2279.8,"v":21760},{"i":42,"o":2287.9,"h":2310.2,"l":2267.7,"c":2310.2,"v":20860},{"i":43,"o":2310.2,"h":2313.3,"l":2280.9,"c":2293,"v":18390},{"i":44,"o":2287.9,"h":2355.8,"l":2284.9,"c":2353.8,"v":18060},{"i":45,"o":2351.8,"h":2363.9,"l":2323.4,"c":2335.6,"v":19740},{"i":46,"o":2328.5,"h":2374,"l":2315.3,"c":2338.6,"v":18950},{"i":47,"o":2358.9,"h":2431.8,"l":2355.8,"c":2431.8,"v":22320},{"i":48,"o":2439.9,"h":2480.4,"l":2429.8,"c":2480.4,"v":22540},{"i":49,"o":2477.4,"h":2490.6,"l":2445,"c":2448,"v":23220},{"i":50,"o":2457.1,"h":2503.7,"l":2439.9,"c":2500.7,"v":24900},
{"i":51,"o":2505.8,"h":2566.6,"l":2500.7,"c":2546.3,"v":26800},{"i":52,"o":2541.2,"h":2609.1,"l":2538.2,"c":2599,"v":27250},{"i":53,"o":2541.2,"h":2622.3,"l":2483.5,"c":2617.2,"v":30950},{"i":54,"o":2571.6,"h":2588.9,"l":2495.6,"c":2505.8,"v":29830},{"i":55,"o":2523.9,"h":2551.4,"l":2473.4,"c":2513.9,"v":23890},{"i":56,"o":2416.6,"h":2462.2,"l":2363.9,"c":2366,"v":26240},{"i":57,"o":2404.5,"h":2467.3,"l":2384.2,"c":2453.1,"v":23890},{"i":58,"o":2507.8,"h":2558.5,"l":2465.3,"c":2493.6,"v":26800},{"i":59,"o":2475.4,"h":2505.8,"l":2439.9,"c":2493.6,"v":23660},{"i":60,"o":2528.1,"h":2543.3,"l":2495.6,"c":2536.2,"v":29270},
{"i":61,"o":2487.5,"h":2534.1,"l":2485.5,"c":2513.9,"v":22880},{"i":62,"o":2467.3,"h":2483.5,"l":2399.4,"c":2402.4,"v":26470},{"i":63,"o":2382.2,"h":2475.4,"l":2353.8,"c":2475.4,"v":25680},{"i":64,"o":2487.5,"h":2495.6,"l":2429.8,"c":2432.8,"v":22880},{"i":65,"o":2392.3,"h":2409.5,"l":2355.8,"c":2382.2,"v":19850},{"i":66,"o":2257.6,"h":2389.3,"l":2257.6,"c":2366,"v":23660},{"i":67,"o":2379.1,"h":2379.1,"l":2227.2,"c":2235.3,"v":22880},{"i":68,"o":2264.6,"h":2280.8,"l":2156.2,"c":2242.3,"v":19510},{"i":69,"o":2264.6,"h":2313.3,"l":2201.8,"c":2202.48,"v":19180},{"i":70,"o":2209.9,"h":2237.3,"l":2159.3,"c":2224.7,"v":20190}
 ],
 "brma": [
{"m":"MA5","i":1,"v":1948.5},{"m":"MA5","i":2.7,"v":1963.7},{"m":"MA5","i":4.3,"v":1980.9},{"m":"MA5","i":6.6,"v":2014.4},{"m":"MA5","i":8.1,"v":2034.6},{"m":"MA5","i":10,"v":2062},{"m":"MA5","i":11.5,"v":2090.4},{"m":"MA5","i":12.7,"v":2103.5},{"m":"MA5","i":14.2,"v":2095.4},{"m":"MA5","i":15.8,"v":2092.4},{"m":"MA5","i":17.7,"v":2092.4},{"m":"MA5","i":19.6,"v":2095.4},{"m":"MA5","i":21.1,"v":2112.7},{"m":"MA5","i":22.6,"v":2136},{"m":"MA5","i":24.2,"v":2171.4},{"m":"MA5","i":25.7,"v":2191.7},{"m":"MA5","i":27.2,"v":2222.1},{"m":"MA5","i":28.8,"v":2242.3},{"m":"MA5","i":30.3,"v":2257.6},{"m":"MA5","i":31.8,"v":2264.6},{"m":"MA5","i":33.4,"v":2274.8},{"m":"MA5","i":34.9,"v":2284.9},{"m":"MA5","i":36.06,"v":2280},{"m":"MA5","i":37.2,"v":2237.3},{"m":"MA5","i":38,"v":2212},{"m":"MA5","i":40.2,"v":2173.5},{"m":"MA5","i":41.4,"v":2186.6},{"m":"MA5","i":43,"v":2242.3},{"m":"MA5","i":45.3,"v":2298},{"m":"MA5","i":47.2,"v":2384.2},{"m":"MA5","i":49.1,"v":2434.9},{"m":"MA5","i":51.4,"v":2505.8},{"m":"MA5","i":53.3,"v":2546.3},{"m":"MA5","i":54.8,"v":2554.4},{"m":"MA5","i":56.4,"v":2505.8},{"m":"MA5","i":57.9,"v":2465.3},{"m":"MA5","i":59.8,"v":2463.2},{"m":"MA5","i":61.3,"v":2497.7},{"m":"MA5","i":62.9,"v":2485.5},{"m":"MA5","i":64.4,"v":2465.3},{"m":"MA5","i":65.9,"v":2419.7},{"m":"MA5","i":67.4,"v":2363.9},{"m":"MA5","i":69,"v":2298},{"m":"MA5","i":70.1,"v":2254.5},
{"m":"MA10","i":1,"v":1948.5},{"m":"MA10","i":4.3,"v":1963.7},{"m":"MA10","i":6.9,"v":1984},{"m":"MA10","i":8.9,"v":2014.4},{"m":"MA10","i":10.8,"v":2039.7},{"m":"MA10","i":12.7,"v":2065},{"m":"MA10","i":15,"v":2075.2},{"m":"MA10","i":17.3,"v":2090.4},{"m":"MA10","i":19.6,"v":2097.5},{"m":"MA10","i":21.9,"v":2105.6},{"m":"MA10","i":23.4,"v":2136},{"m":"MA10","i":25.3,"v":2161.3},{"m":"MA10","i":27.2,"v":2191.7},{"m":"MA10","i":29.5,"v":2227.2},{"m":"MA10","i":31.8,"v":2242.3},{"m":"MA10","i":33.4,"v":2252.5},{"m":"MA10","i":34.9,"v":2264.6},{"m":"MA10","i":35.7,"v":2272.7},{"m":"MA10","i":36.4,"v":2265},{"m":"MA10","i":37.6,"v":2242.3},{"m":"MA10","i":39.1,"v":2232.2},{"m":"MA10","i":41.8,"v":2232.2},{"m":"MA10","i":43.7,"v":2240.3},{"m":"MA10","i":46,"v":2252.5},{"m":"MA10","i":47.5,"v":2323.4},{"m":"MA10","i":49.8,"v":2384.2},{"m":"MA10","i":52.1,"v":2445},{"m":"MA10","i":53.7,"v":2470.3},{"m":"MA10","i":55.2,"v":2497.7},{"m":"MA10","i":57.1,"v":2500.7},{"m":"MA10","i":59,"v":2505.8},{"m":"MA10","i":61,"v":2505.8},{"m":"MA10","i":62.1,"v":2485.5},{"m":"MA10","i":63.7,"v":2470.3},{"m":"MA10","i":65.2,"v":2455.1},{"m":"MA10","i":66.4,"v":2452.1},{"m":"MA10","i":67.5,"v":2429.8},{"m":"MA10","i":69,"v":2384.2},{"m":"MA10","i":70.1,"v":2348.7},
{"m":"MA20","i":1,"v":1965.7},{"m":"MA20","i":4.3,"v":1973.8},{"m":"MA20","i":7.3,"v":1976.9},{"m":"MA20","i":10,"v":1989},{"m":"MA20","i":12.7,"v":2004.3},{"m":"MA20","i":15.8,"v":2019.5},{"m":"MA20","i":19.6,"v":2044.8},{"m":"MA20","i":23.4,"v":2085.3},{"m":"MA20","i":27.2,"v":2136},{"m":"MA20","i":30.3,"v":2156.2},{"m":"MA20","i":33.4,"v":2176.5},{"m":"MA20","i":35.7,"v":2206.9},{"m":"MA20","i":37.2,"v":2208.9},{"m":"MA20","i":39.9,"v":2222.1},{"m":"MA20","i":43.7,"v":2252.5},{"m":"MA20","i":47.5,"v":2287.9},{"m":"MA20","i":51.4,"v":2353.8},{"m":"MA20","i":55.2,"v":2399.4},{"m":"MA20","i":59,"v":2445},{"m":"MA20","i":61,"v":2465.3},{"m":"MA20","i":62.9,"v":2473.4},{"m":"MA20","i":65.9,"v":2475.4},{"m":"MA20","i":67.5,"v":2467.3},{"m":"MA20","i":70.1,"v":2431.8},
{"m":"MA30","i":1,"v":1976.9},{"m":"MA30","i":8.1,"v":1978.9},{"m":"MA30","i":15.8,"v":2004.3},{"m":"MA30","i":23.4,"v":2041.8},{"m":"MA30","i":31.1,"v":2077.2},{"m":"MA30","i":37.2,"v":2122.8},{"m":"MA30","i":43.7,"v":2179.5},{"m":"MA30","i":51.4,"v":2257.6},{"m":"MA30","i":59,"v":2331.5},{"m":"MA30","i":62.9,"v":2353.8},{"m":"MA30","i":66.7,"v":2366},{"m":"MA30","i":70.1,"v":2364},
{"m":"MA60","i":1,"v":1984},{"m":"MA60","i":11.9,"v":1989},{"m":"MA60","i":19.6,"v":2007.3},{"m":"MA60","i":27.2,"v":2039.7},{"m":"MA60","i":34.9,"v":2070.1},{"m":"MA60","i":37.2,"v":2072.1},{"m":"MA60","i":43.7,"v":2105.6},{"m":"MA60","i":51.4,"v":2166.4},{"m":"MA60","i":59,"v":2247.4},{"m":"MA60","i":66.7,"v":2282.9},{"m":"MA60","i":70.1,"v":2293},
{"m":"MA120","i":1,"v":1911},{"m":"MA120","i":11.9,"v":1928.3},{"m":"MA120","i":23.4,"v":1953.6},{"m":"MA120","i":31.1,"v":1984},{"m":"MA120","i":37.2,"v":2004.3},{"m":"MA120","i":43.7,"v":2039.7},{"m":"MA120","i":51.4,"v":2075.2},{"m":"MA120","i":59,"v":2112.7},{"m":"MA120","i":66.7,"v":2136},{"m":"MA120","i":70.1,"v":2139},
{"m":"MA250","i":1,"v":1847.2},{"m":"MA250","i":11.9,"v":1872.5},{"m":"MA250","i":23.4,"v":1903},{"m":"MA250","i":31.1,"v":1923.2},{"m":"MA250","i":37.2,"v":1933.3},{"m":"MA250","i":43.7,"v":1958.7},{"m":"MA250","i":51.4,"v":1989},{"m":"MA250","i":59,"v":2004.3},{"m":"MA250","i":66.7,"v":2012.4},{"m":"MA250","i":70.1,"v":2014.4}
 ],
 "brvma": [
{"m":"V5","i":1,"v":9000},{"m":"V5","i":13.8,"v":12330},{"m":"V5","i":23,"v":14670},{"m":"V5","i":31,"v":14000},{"m":"V5","i":36.8,"v":16670},{"m":"V5","i":43.7,"v":20000},{"m":"V5","i":48.2,"v":24000},{"m":"V5","i":51.7,"v":27330},{"m":"V5","i":56.3,"v":25670},{"m":"V5","i":62,"v":24000},{"m":"V5","i":66.6,"v":20670},{"m":"V5","i":70,"v":19000},
{"m":"V10","i":1,"v":9000},{"m":"V10","i":13.8,"v":11330},{"m":"V10","i":25.3,"v":14670},{"m":"V10","i":36.8,"v":16670},{"m":"V10","i":45.8,"v":21330},{"m":"V10","i":52.8,"v":25670},{"m":"V10","i":59.7,"v":24670},{"m":"V10","i":65.4,"v":22330},{"m":"V10","i":70,"v":20000}
 ]
},
"concat": [
 {
  "width": 633, "height": 16,
  "data": {"values": [{"k":"分时"},{"k":"1分钟"},{"k":"5分钟"},{"k":"15分钟"},{"k":"30分钟"},{"k":"60分钟"},{"k":"日线"},{"k":"周线"},{"k":"月线"},{"k":"报价表"},{"k":"更多 >"}]},
  "mark": {"type": "text", "fontSize": 12, "dy": 1},
  "encoding": {
   "x": {"field": "k", "type": "nominal", "scale": {"type": "point", "padding": 0.347, "domain": ["分时","1分钟","5分钟","15分钟","30分钟","60分钟","日线","周线","月线","报价表","更多 >","a1","a2","a3","a4","a5"]}, "axis": {"domainWidth": 2, "title": null}},
   "text": {"field": "k"},
   "color": {"condition": {"test": "datum.k === '日线'", "value": "#e81010"}, "value": "#1a1a1a"}
  }
 },
 {
  "width": 637, "height": 16,
  "data": {"values": [{"k":"切换"},{"k":"指标"},{"k":"窗口"},{"k":"放大"},{"k":"F10"},{"k":"标记"},{"k":"+自选"},{"k":"返回"}]},
  "mark": {"type": "text", "fontSize": 12, "dx": 35, "dy": 1},
  "encoding": {
   "x": {"field": "k", "type": "nominal", "scale": {"type": "point", "padding": 0.25, "domain": ["r1","r2","r3","r4","r5","r6","r7","r8","r9","切换","指标","窗口","放大","F10","标记","+自选","返回"]}, "axis": {"domainWidth": 2, "title": null}},
   "text": {"field": "k"},
   "color": {"value": "#1a1a1a"}
  }
 },
 {
  "width": 633, "height": 280,
  "resolve": {"axis": {"x": "independent", "y": "independent"}},
  "layer": [
   {"data": {"name": "tl"}, "mark": {"type": "rule", "clip": true, "strokeWidth": 1},
    "encoding": {
     "x": {"field": "i", "type": "quantitative", "scale": {"domain": [0.805, 73.53], "nice": false, "zero": false}, "axis": {"title": null}},
     "y": {"field": "l", "type": "quantitative", "scale": {"domain": [3493, 4282.3], "nice": false, "zero": false}, "axis": {"orient": "right", "values": [3600, 3700, 3800, 3900, 4000, 4100, 4200], "format": "d", "title": null}},
     "y2": {"field": "h"},
     "color": {"condition": {"test": "datum.c >= datum.o", "value": "#f64646"}, "value": "#389a38"}}},
   {"data": {"name": "tl"}, "mark": {"type": "bar", "clip": true, "size": 7},
    "encoding": {
     "x": {"field": "i", "type": "quantitative", "axis": null},
     "y": {"field": "o", "type": "quantitative", "axis": null},
     "y2": {"field": "c"},
     "color": {"condition": {"test": "datum.c >= datum.o", "value": "#f64646"}, "value": "#389a38"}}},
   {"data": {"name": "tlma"}, "mark": {"type": "line", "clip": true},
    "encoding": {
     "x": {"field": "i", "type": "quantitative", "axis": null},
     "y": {"field": "v", "type": "quantitative", "axis": null},
     "color": {"field": "m", "type": "nominal", "scale": {"domain": ["MA5","MA10","MA20","MA30","MA60","MA120","MA250"], "range": ["#3a3a3a","#1a7fd4","#8a0a8a","#8c8c8c","#0a870a","#2bd3d8","#333333"]}, "legend": null},
     "strokeWidth": {"field": "m", "type": "nominal", "scale": {"domain": ["MA5","MA10","MA20","MA30","MA60","MA120","MA250"], "range": [1, 1, 1.5, 1.5, 1.5, 1.5, 1.6]}, "legend": null}}},
   {"data": {"values": [{"t": ""}]}, "mark": {"type": "rect", "color": "#b6eef0"},
    "encoding": {"x": {"datum": 0.805, "type": "quantitative", "axis": null}, "x2": {"datum": 9.65}, "y": {"datum": 4240, "type": "quantitative", "axis": null}, "y2": {"datum": 4282.3}}},
   {"data": {"values": [{"t": "沪深300(日线)"}]}, "mark": {"type": "text", "align": "left", "dx": 1, "dy": -8, "fontSize": 11.5, "color": "#111111"},
    "encoding": {"x": {"datum": 0.805, "type": "quantitative", "axis": null}, "y": {"datum": 4240, "type": "quantitative", "axis": null}, "text": {"field": "t"}}},
   {"data": {"values": [{"t": "3589.09 -1.30% ▼-47.17"}]}, "mark": {"type": "text", "align": "left", "dx": 81, "dy": -8, "fontSize": 11.5, "color": "#2e962e"},
    "encoding": {"x": {"datum": 0.805, "type": "quantitative", "axis": null}, "y": {"datum": 4240, "type": "quantitative", "axis": null}, "text": {"field": "t"}}},
   {"data": {"values": [{"t": "成交额 2718.27亿"}]}, "mark": {"type": "text", "align": "left", "dx": 220, "dy": -8, "fontSize": 12, "color": "#333333"},
    "encoding": {"x": {"datum": 0.805, "type": "quantitative", "axis": null}, "y": {"datum": 4240, "type": "quantitative", "axis": null}, "text": {"field": "t"}}}
  ]
 },
 {
  "width": 637, "height": 280,
  "resolve": {"axis": {"x": "independent", "y": "independent"}},
  "layer": [
   {"data": {"name": "tr"}, "mark": {"type": "rule", "clip": true, "strokeWidth": 1},
    "encoding": {
     "x": {"field": "i", "type": "quantitative", "scale": {"domain": [0.427, 73.48], "nice": false, "zero": false}, "axis": {"title": null}},
     "y": {"field": "l", "type": "quantitative", "scale": {"domain": [2641, 3166.1], "nice": false, "zero": false}, "axis": {"orient": "right", "labelPadding": 42, "values": [2700, 2750, 2800, 2850, 2900, 2950, 3000, 3050, 3100], "format": "d", "title": null, "gridOpacity": {"condition": {"test": "datum.value % 100 === 0", "value": 1}, "value": 0}}},
     "y2": {"field": "h"},
     "color": {"condition": {"test": "datum.c >= datum.o", "value": "#f64646"}, "value": "#389a38"}}},
   {"data": {"name": "tr"}, "mark": {"type": "bar", "clip": true, "size": 7},
    "encoding": {
     "x": {"field": "i", "type": "quantitative", "axis": null},
     "y": {"field": "o", "type": "quantitative", "axis": {"orient": "left", "labels": false, "grid": false, "title": null}},
     "y2": {"field": "c"},
     "color": {"condition": {"test": "datum.c >= datum.o", "value": "#f64646"}, "value": "#389a38"}}},
   {"data": {"name": "trma"}, "mark": {"type": "line", "clip": true},
    "encoding": {
     "x": {"field": "i", "type": "quantitative", "axis": null},
     "y": {"field": "v", "type": "quantitative", "axis": null},
     "color": {"field": "m", "type": "nominal", "scale": {"domain": ["MA5","MA10","MA20","MA30","MA60","MA120","MA250"], "range": ["#3a3a3a","#1a7fd4","#8a0a8a","#8c8c8c","#0a870a","#2bd3d8","#333333"]}, "legend": null},
     "strokeWidth": {"field": "m", "type": "nominal", "scale": {"domain": ["MA5","MA10","MA20","MA30","MA60","MA120","MA250"], "range": [1, 1, 1.5, 1.5, 1.5, 1.5, 1.6]}, "legend": null}}},
   {"data": {"values": [{"t": "上证指数(日线)"}]}, "mark": {"type": "text", "align": "left", "dx": 3, "dy": -8, "fontSize": 11.5, "color": "#111111"},
    "encoding": {"x": {"datum": 0.427, "type": "quantitative", "axis": null}, "y": {"datum": 3138, "type": "quantitative", "axis": null}, "text": {"field": "t"}}},
   {"data": {"values": [{"t": "2702.13 -0.98% ▼-26.63"}]}, "mark": {"type": "text", "align": "left", "dx": 88, "dy": -8, "fontSize": 11.5, "color": "#2e962e"},
    "encoding": {"x": {"datum": 0.427, "type": "quantitative", "axis": null}, "y": {"datum": 3138, "type": "quantitative", "axis": null}, "text": {"field": "t"}}},
   {"data": {"values": [{"t": "成交额 3305.18亿"}]}, "mark": {"type": "text", "align": "left", "dx": 219, "dy": -8, "fontSize": 12, "color": "#333333"},
    "encoding": {"x": {"datum": 0.427, "type": "quantitative", "axis": null}, "y": {"datum": 3138, "type": "quantitative", "axis": null}, "text": {"field": "t"}}}
  ]
 },
 {
  "width": 633, "height": 93,
  "resolve": {"axis": {"x": "independent", "y": "independent"}},
  "layer": [
   {"data": {"name": "tl"}, "mark": {"type": "bar", "clip": true, "size": 7},
    "encoding": {
     "x": {"field": "i", "type": "quantitative", "scale": {"domain": [0.805, 73.53], "nice": false, "zero": false}, "axis": {"title": null}},
     "y": {"field": "v", "type": "quantitative", "scale": {"domain": [-845, 38450], "nice": false, "zero": false}, "axis": {"orient": "right", "values": [15000, 30000], "format": "d", "title": null}},
     "color": {"condition": {"test": "datum.c >= datum.o", "value": "#f64646"}, "value": "#389a38"}}},
   {"data": {"name": "tlvma"}, "mark": {"type": "line", "clip": true, "strokeWidth": 1.3},
    "encoding": {
     "x": {"field": "i", "type": "quantitative", "axis": null},
     "y": {"field": "v", "type": "quantitative", "axis": null},
     "color": {"field": "m", "type": "nominal", "scale": {"domain": ["V5","V10"], "range": ["#1a7fd4","#8a0a8a"]}, "legend": null}}},
   {"data": {"values": [{"t": "X1000"}]}, "mark": {"type": "text", "align": "left", "dx": 5, "dy": -7, "fontSize": 12, "font": "Liberation Sans", "color": "#808080"},
    "encoding": {"x": {"datum": 73.53, "type": "quantitative", "axis": null}, "y": {"datum": -845, "type": "quantitative", "axis": null}, "text": {"field": "t"}}}
  ]
 },
 {
  "width": 637, "height": 93,
  "resolve": {"axis": {"x": "independent", "y": "independent"}},
  "layer": [
   {"data": {"name": "tr"}, "mark": {"type": "bar", "clip": true, "size": 7},
    "encoding": {
     "x": {"field": "i", "type": "quantitative", "scale": {"domain": [0.427, 73.48], "nice": false, "zero": false}, "axis": {"title": null}},
     "y": {"field": "v", "type": "quantitative", "scale": {"domain": [0, 52190], "nice": false, "zero": false}, "axis": {"orient": "right", "labelPadding": 42, "values": [20000, 40000], "format": "d", "title": null}},
     "color": {"condition": {"test": "datum.c >= datum.o", "value": "#f64646"}, "value": "#389a38"}}},
   {"data": {"name": "trvma"}, "mark": {"type": "line", "clip": true, "strokeWidth": 1.3},
    "encoding": {
     "x": {"field": "i", "type": "quantitative", "axis": null},
     "y": {"field": "v", "type": "quantitative", "axis": {"orient": "left", "labels": false, "grid": false, "title": null}},
     "color": {"field": "m", "type": "nominal", "scale": {"domain": ["V5","V10"], "range": ["#1a7fd4","#8a0a8a"]}, "legend": null}}},
   {"data": {"values": [{"t": "X1000"}]}, "mark": {"type": "text", "align": "left", "dx": 5, "dy": -7, "fontSize": 12, "font": "Liberation Sans", "color": "#808080"},
    "encoding": {"x": {"datum": 73.48, "type": "quantitative", "axis": null}, "y": {"datum": 0, "type": "quantitative", "axis": null}, "text": {"field": "t"}}}
  ]
 },
 {
  "width": 633, "height": 281,
  "resolve": {"axis": {"x": "independent", "y": "independent"}},
  "layer": [
   {"data": {"name": "bl"}, "mark": {"type": "rule", "clip": true, "strokeWidth": 1},
    "encoding": {
     "x": {"field": "i", "type": "quantitative", "scale": {"domain": [0.805, 73.53], "nice": false, "zero": false}, "axis": {"title": null}},
     "y": {"field": "l", "type": "quantitative", "scale": {"domain": [1542, 1979.1], "nice": false, "zero": false}, "axis": {"orient": "right", "values": [1600, 1650, 1700, 1750, 1800, 1850, 1900, 1950], "format": "d", "title": null}},
     "y2": {"field": "h"},
     "color": {"condition": {"test": "datum.c >= datum.o", "value": "#f64646"}, "value": "#389a38"}}},
   {"data": {"name": "bl"}, "mark": {"type": "bar", "clip": true, "size": 7},
    "encoding": {
     "x": {"field": "i", "type": "quantitative", "axis": null},
     "y": {"field": "o", "type": "quantitative", "axis": null},
     "y2": {"field": "c"},
     "color": {"condition": {"test": "datum.c >= datum.o", "value": "#f64646"}, "value": "#389a38"}}},
   {"data": {"name": "blma"}, "mark": {"type": "line", "clip": true},
    "encoding": {
     "x": {"field": "i", "type": "quantitative", "axis": null},
     "y": {"field": "v", "type": "quantitative", "axis": null},
     "color": {"field": "m", "type": "nominal", "scale": {"domain": ["MA5","MA10","MA20","MA30","MA60","MA120","MA250"], "range": ["#3a3a3a","#1a7fd4","#8a0a8a","#8c8c8c","#0a870a","#2bd3d8","#333333"]}, "legend": null},
     "strokeWidth": {"field": "m", "type": "nominal", "scale": {"domain": ["MA5","MA10","MA20","MA30","MA60","MA120","MA250"], "range": [1, 1, 1.5, 1.5, 1.5, 1.5, 1.6]}, "legend": null}}},
   {"data": {"values": [{"t": "深证综指(日线)"}]}, "mark": {"type": "text", "align": "left", "dx": 1, "dy": -8, "fontSize": 11.5, "color": "#111111"},
    "encoding": {"x": {"datum": 0.805, "type": "quantitative", "axis": null}, "y": {"datum": 1954.2, "type": "quantitative", "axis": null}, "text": {"field": "t"}}},
   {"data": {"values": [{"t": "1682.93 0.28% ▲4.68"}]}, "mark": {"type": "text", "align": "left", "dx": 82, "dy": -8, "fontSize": 11.5, "color": "#f03a3a"},
    "encoding": {"x": {"datum": 0.805, "type": "quantitative", "axis": null}, "y": {"datum": 1954.2, "type": "quantitative", "axis": null}, "text": {"field": "t"}}},
   {"data": {"values": [{"t": "成交额 4919.49亿"}]}, "mark": {"type": "text", "align": "left", "dx": 200, "dy": -8, "fontSize": 12, "color": "#333333"},
    "encoding": {"x": {"datum": 0.805, "type": "quantitative", "axis": null}, "y": {"datum": 1954.2, "type": "quantitative", "axis": null}, "text": {"field": "t"}}}
  ]
 },
 {
  "width": 637, "height": 281,
  "resolve": {"axis": {"x": "independent", "y": "independent"}},
  "layer": [
   {"data": {"name": "br"}, "mark": {"type": "rule", "clip": true, "strokeWidth": 1},
    "encoding": {
     "x": {"field": "i", "type": "quantitative", "scale": {"domain": [0.427, 73.48], "nice": false, "zero": false}, "axis": {"title": null}},
     "y": {"field": "l", "type": "quantitative", "scale": {"domain": [1833, 2687.2], "nice": false, "zero": false}, "axis": {"orient": "right", "labelPadding": 42, "values": [1900, 2000, 2100, 2200, 2300, 2400, 2500, 2600], "format": "d", "title": null}},
     "y2": {"field": "h"},
     "color": {"condition": {"test": "datum.c >= datum.o", "value": "#f64646"}, "value": "#389a38"}}},
   {"data": {"name": "br"}, "mark": {"type": "bar", "clip": true, "size": 7},
    "encoding": {
     "x": {"field": "i", "type": "quantitative", "axis": null},
     "y": {"field": "o", "type": "quantitative", "axis": {"orient": "left", "labels": false, "grid": false, "title": null}},
     "y2": {"field": "c"},
     "color": {"condition": {"test": "datum.c >= datum.o", "value": "#f64646"}, "value": "#389a38"}}},
   {"data": {"name": "brma"}, "mark": {"type": "line", "clip": true},
    "encoding": {
     "x": {"field": "i", "type": "quantitative", "axis": null},
     "y": {"field": "v", "type": "quantitative", "axis": null},
     "color": {"field": "m", "type": "nominal", "scale": {"domain": ["MA5","MA10","MA20","MA30","MA60","MA120","MA250"], "range": ["#3a3a3a","#1a7fd4","#8a0a8a","#8c8c8c","#0a870a","#2bd3d8","#333333"]}, "legend": null},
     "strokeWidth": {"field": "m", "type": "nominal", "scale": {"domain": ["MA5","MA10","MA20","MA30","MA60","MA120","MA250"], "range": [1, 1, 1.5, 1.5, 1.5, 1.5, 1.6]}, "legend": null}}},
   {"data": {"values": [{"t": "创业板综(日线)"}]}, "mark": {"type": "text", "align": "left", "dx": 3, "dy": -8, "fontSize": 11.5, "color": "#111111"},
    "encoding": {"x": {"datum": 0.427, "type": "quantitative", "axis": null}, "y": {"datum": 2638.6, "type": "quantitative", "axis": null}, "text": {"field": "t"}}},
   {"data": {"values": [{"t": "2224.70 1.01% ▲22.22"}]}, "mark": {"type": "text", "align": "left", "dx": 89, "dy": -8, "fontSize": 11.5, "color": "#f03a3a"},
    "encoding": {"x": {"datum": 0.427, "type": "quantitative", "axis": null}, "y": {"datum": 2638.6, "type": "quantitative", "axis": null}, "text": {"field": "t"}}},
   {"data": {"values": [{"t": "成交额 1647.31亿"}]}, "mark": {"type": "text", "align": "left", "dx": 218, "dy": -8, "fontSize": 12, "color": "#333333"},
    "encoding": {"x": {"datum": 0.427, "type": "quantitative", "axis": null}, "y": {"datum": 2638.6, "type": "quantitative", "axis": null}, "text": {"field": "t"}}}
  ]
 },
 {
  "width": 633, "height": 90,
  "resolve": {"axis": {"x": "independent", "y": "independent"}},
  "layer": [
   {"data": {"name": "bl"}, "mark": {"type": "bar", "clip": true, "size": 7},
    "encoding": {
     "x": {"field": "i", "type": "quantitative", "scale": {"domain": [0.805, 73.53], "nice": false, "zero": false}, "axis": {"title": null}},
     "y": {"field": "v", "type": "quantitative", "scale": {"domain": [3870, 90970], "nice": false, "zero": false}, "axis": {"orient": "right", "values": [30000, 60000], "format": "d", "title": null}},
     "color": {"condition": {"test": "datum.c >= datum.o", "value": "#f64646"}, "value": "#389a38"}}},
   {"data": {"name": "blvma"}, "mark": {"type": "line", "clip": true, "strokeWidth": 1.3},
    "encoding": {
     "x": {"field": "i", "type": "quantitative", "axis": null},
     "y": {"field": "v", "type": "quantitative", "axis": null},
     "color": {"field": "m", "type": "nominal", "scale": {"domain": ["V5","V10"], "range": ["#1a7fd4","#8a0a8a"]}, "legend": null}}},
   {"data": {"values": [{"t": "X1000"}]}, "mark": {"type": "text", "align": "left", "dx": 5, "dy": -7, "fontSize": 12, "font": "Liberation Sans", "color": "#808080"},
    "encoding": {"x": {"datum": 73.53, "type": "quantitative", "axis": null}, "y": {"datum": 3870, "type": "quantitative", "axis": null}, "text": {"field": "t"}}}
  ]
 },
 {
  "width": 637, "height": 90,
  "resolve": {"axis": {"x": "independent", "y": "independent"}},
  "layer": [
   {"data": {"name": "br"}, "mark": {"type": "bar", "clip": true, "size": 7},
    "encoding": {
     "x": {"field": "i", "type": "quantitative", "scale": {"domain": [0.427, 73.48], "nice": false, "zero": false}, "axis": {"title": null}},
     "y": {"field": "v", "type": "quantitative", "scale": {"domain": [1333, 31333], "nice": false, "zero": false}, "axis": {"orient": "right", "labelPadding": 42, "values": [15000], "format": "d", "title": null}},
     "color": {"condition": {"test": "datum.c >= datum.o", "value": "#f64646"}, "value": "#389a38"}}},
   {"data": {"name": "brvma"}, "mark": {"type": "line", "clip": true, "strokeWidth": 1.3},
    "encoding": {
     "x": {"field": "i", "type": "quantitative", "axis": null},
     "y": {"field": "v", "type": "quantitative", "axis": {"orient": "left", "labels": false, "grid": false, "title": null}},
     "color": {"field": "m", "type": "nominal", "scale": {"domain": ["V5","V10"], "range": ["#1a7fd4","#8a0a8a"]}, "legend": null}}},
   {"data": {"values": [{"t": "X1000"}]}, "mark": {"type": "text", "align": "left", "dx": 5, "dy": -7, "fontSize": 12, "font": "Liberation Sans", "color": "#808080"},
    "encoding": {"x": {"datum": 73.48, "type": "quantitative", "axis": null}, "y": {"datum": 1333, "type": "quantitative", "axis": null}, "text": {"field": "t"}}}
  ]
 }
]
}
